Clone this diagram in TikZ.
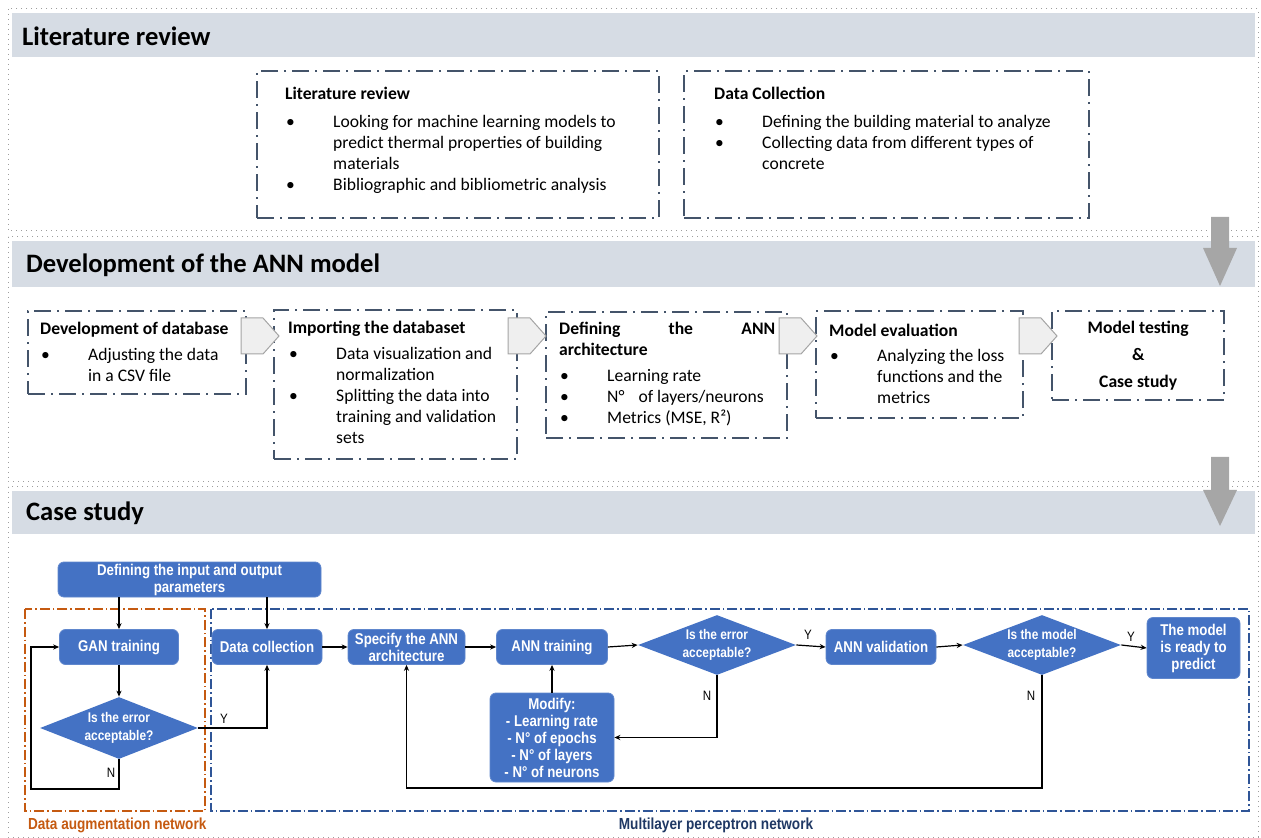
\documentclass[tikz,border=0pt]{standalone}
\usepackage{fontspec}
\setmainfont{Carlito}
\newfontfamily\flowfont[FakeStretch=0.85]{Liberation Sans}
\usetikzlibrary{shapes.geometric,arrows.meta,calc}

\definecolor{bandgray}{HTML}{D6DCE4}
\definecolor{dotgray}{HTML}{9E9E9E}
\definecolor{slate}{HTML}{44546A}
\definecolor{chevfill}{HTML}{EFEFEF}
\definecolor{chevline}{HTML}{A5A5A5}
\definecolor{arrowgray}{HTML}{A6A6A6}
\definecolor{flowblue}{HTML}{4472C4}
\definecolor{augorange}{HTML}{C55A11}
\definecolor{mlpblue}{HTML}{2F5597}
\definecolor{mlpnavy}{HTML}{1F3864}

% left gap, text width, box height, top gap, text
\newcommand{\boxtext}[5]{\hspace*{#1}\parbox[c][#3][t]{#2}{\raggedright\vspace*{#4}#5}}
\newcommand{\bitem}{\par\hangindent=24pt\hangafter=1\noindent\makebox[24pt][l]{\hspace{0.5pt}\textbullet}}

\tikzset{
  band/.style={fill=bandgray},
  secframe/.style={draw=dotgray, dotted, line width=0.5pt},
  sectitle/.style={anchor=west, font=\fontsize{13.3}{16}\selectfont\bfseries},
  stepframe/.style={draw=slate, line width=1.2pt, dash pattern=on 8.5pt off 3pt on 1pt off 3pt,
    inner sep=0pt, anchor=north west, font=\fontsize{8.8}{10.5}\selectfont},
  chevron/.style={fill=chevfill, draw=chevline, line width=0.5pt},
  bigarrow/.style={fill=arrowgray},
  flowbox/.style={rectangle, rounded corners=3pt, fill=flowblue, draw=flowblue!85!white,
    text=white, align=center, inner sep=0pt,
    font=\flowfont\bfseries\fontsize{7.8}{8.5}\selectfont},
  decision/.style={diamond, aspect=2.6, fill=flowblue, text=white, align=center, inner sep=0pt,
    minimum width=79pt, minimum height=30pt,
    font=\flowfont\bfseries\fontsize{7}{9}\selectfont},
  flow/.style={-{Stealth[length=3pt,width=2.6pt]}, line width=0.6pt},
  yn/.style={font=\flowfont\fontsize{6.8}{7}\selectfont},
  augframe/.style={draw=augorange, line width=0.6pt, dash pattern=on 5pt off 1.5pt on 0.8pt off 1.5pt},
  mlpframe/.style={draw=mlpblue, line width=0.6pt, dash pattern=on 5pt off 1.5pt on 0.8pt off 1.5pt},
}

\begin{document}
\begin{tikzpicture}[x=0.5pt,y=-0.5pt]
\useasboundingbox (0,0) rectangle (1261,838);

% sections
\draw[secframe] (8,9) rectangle (1258,231);
\draw[secframe] (8,237) rectangle (1258,482);
\draw[secframe] (8,487) rectangle (1258,837);
\fill[band] (12,13) rectangle (1255,57);
\fill[band] (12,241) rectangle (1255,287);
\fill[band] (12,491) rectangle (1255,534);
\node[sectitle] (littitle) at (15,36) {Literature review};
\node[sectitle] (anntitle) at (19,265) {Development of the ANN model};
\node[sectitle] (casetitle) at (19,513) {Case study};

% literature review
\draw (256,70) node[stepframe] (litbox) {\boxtext{14pt}{187pt}{73.5pt}{8pt}{%
  {\bfseries Literature review}\par\vspace{3.5pt}
  \bitem Looking for machine learning models to\newline predict thermal properties of building\newline materials
  \bitem Bibliographic and bibliometric analysis}};
\draw (683,70) node[stepframe] (colbox) {\boxtext{15pt}{187.5pt}{73.5pt}{8pt}{%
  {\bfseries Data Collection}\par\vspace{3.5pt}
  \bitem Defining the building material to analyze
  \bitem Collecting data from different types of\newline concrete}};

% ANN model
\draw (27,310) node[stepframe] (dbbox) {\boxtext{6pt}{103pt}{41.5pt}{5.5pt}{%
  {\bfseries Development of database}\par\vspace{2.5pt}
  \bitem Adjusting the data\newline in a CSV file}};
\draw (273,309) node[stepframe] (impbox) {\boxtext{7pt}{114.5pt}{74.5pt}{5.5pt}{%
  {\bfseries Importing the databaset}\par\vspace{2.5pt}
  \bitem Data visualization and\newline normalization
  \bitem Splitting the data into\newline training and validation\newline sets}};
\draw (545,311) node[stepframe] (archbox) {\boxtext{6.5pt}{114pt}{63pt}{5pt}{%
  {\bfseries\makebox[108pt][s]{Defining\hfill the\hfill ANN}\newline architecture}\par\vspace{2.5pt}
  \bitem Learning rate
  \bitem N°\hspace{7pt}of layers/neurons
  \bitem Metrics (MSE, R²)}};
\draw (815,310) node[stepframe] (evalbox) {\boxtext{6.5pt}{97pt}{53.5pt}{6.5pt}{%
  {\bfseries Model evaluation}\par\vspace{2pt}
  \bitem Analyzing the loss\newline functions and the\newline metrics}};
\draw (1051,310) node[stepframe] (testbox) {\parbox[c][44.5pt][c]{86pt}{\centering\bfseries
  \baselineskip=13.5pt Model testing\\\&\\Case study}};

\foreach \cx in {241,508,779,1019}
  \draw[chevron] (\cx,318) -- ++(22,0) -- ++(16,18) -- ++(-16,18) -- ++(-22,0) -- cycle;

\fill[bigarrow] (1211,217) -- (1229,217) -- (1229,248) -- (1237,248) -- (1220,286)
  -- (1203,248) -- (1211,248) -- cycle;
\fill[bigarrow] (1211,457) -- (1229,457) -- (1229,490) -- (1237,490) -- (1220,526)
  -- (1203,490) -- (1211,490) -- cycle;

% case study
\draw[augframe] (25,609) rectangle (205,811);
\draw[mlpframe] (211,609) rectangle (1249,811);
\node[anchor=west, text=augorange, font=\flowfont\bfseries\fontsize{8}{9}\selectfont] (auglabel)
  at (21,825) {Data augmentation network};
\node[text=mlpnavy, font=\flowfont\bfseries\fontsize{8}{9}\selectfont] (mlplabel)
  at (716,825) {Multilayer perceptron network};

\draw (189.5,579.5) node[flowbox, minimum width=131.5pt, minimum height=17.5pt] (defio)
  {Defining the input and output\\parameters};
\draw (119,647) node[flowbox, minimum width=59.5pt, minimum height=17.5pt] (gan) {GAN training};
\draw (119,728) node[decision, minimum height=31pt] (dia1) {Is the error\\acceptable?};
\draw (267,647) node[flowbox, minimum width=55pt, minimum height=17.5pt] (datacoll) {Data collection};
\draw (406.5,647) node[flowbox, minimum width=58.5pt, minimum height=17.5pt] (spec)
  {Specify the ANN\\architecture};
\draw (552,647) node[flowbox, minimum width=55.5pt, minimum height=17.5pt] (anntrain) {ANN training};
\draw (717,645) node[decision] (dia2) {Is the error\\acceptable?};
\draw (881,647) node[flowbox, minimum width=55pt, minimum height=17.5pt] (annval) {ANN validation};
\draw (1042,645) node[decision] (dia3) {Is the model\\acceptable?};
\draw (1193.5,648) node[flowbox, minimum width=46.5pt, minimum height=30.5pt] (ready)
  {The model\\is ready to\\predict};
\draw (552,737.5) node[flowbox, minimum width=62pt, minimum height=44.5pt] (modify)
  {Modify:\\- Learning rate\\- N° of epochs\\- N° of layers\\- N° of neurons};

\coordinate (ganloop) at (31,789);
\coordinate (mlploop) at (1042,788);

\draw[flow] (defio.south -| gan.north) -- (gan.north);
\draw[flow] (defio.south -| datacoll.north) -- (datacoll.north);
\draw[flow] (gan) -- (dia1);
\draw[flow] (dia1.south) |- (ganloop) |- (gan.west);
\draw[flow] (dia1.east) -| (datacoll.south);
\draw[flow] (datacoll) -- (spec);
\draw[flow] (spec) -- (anntrain);
\draw[flow] (anntrain.east) -- (dia2.west);
\draw[flow] (dia2.east) -- (annval.west);
\draw[flow] (annval.east) -- (dia3.west);
\draw[flow] (dia3.east) -- (ready.west);
\draw[flow] (dia2.south) |- (modify.east);
\draw[flow] (modify) -- (anntrain);
\draw[flow] (dia3.south) -- (mlploop) -| (spec.south);

\node[yn] (y1) at (224,719) {Y};
\node[yn] (n1) at (111,773) {N};
\node[yn] (y2) at (808,635) {Y};
\node[yn] (n2) at (707,696) {N};
\node[yn] (y3) at (1131,637) {Y};
\node[yn] (n3) at (1031,696) {N};
\end{tikzpicture}
\end{document}
